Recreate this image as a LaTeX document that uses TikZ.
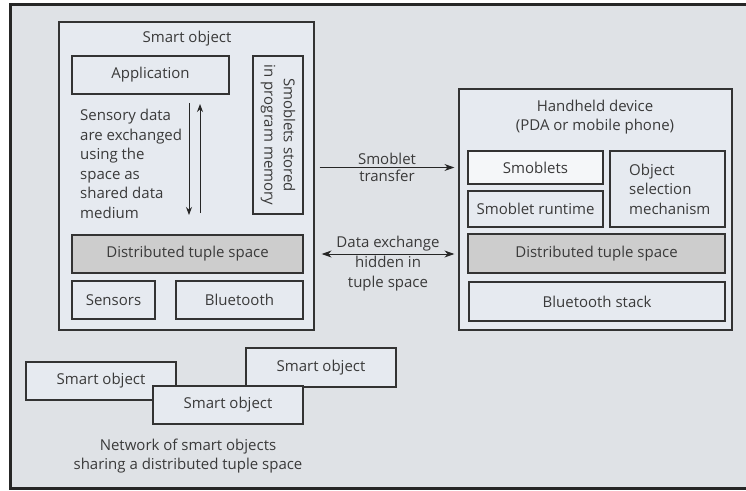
\documentclass[tikz,border=0pt]{standalone}
\usepackage{fontspec}
\setmainfont{Open Sans}
\usetikzlibrary{arrows.meta,positioning}
\definecolor{bgfill}{HTML}{DFE2E6}
\definecolor{boxfill}{HTML}{E6EAF0}
\definecolor{tuplefill}{HTML}{CDCDCD}
\definecolor{inkgray}{HTML}{3A3A3A}
\begin{document}
\begin{tikzpicture}[x=1pt,y=-1pt,
  frame/.style={draw=black!85,line width=3pt,fill=bgfill},
  box/.style={draw=black!80,line width=1.2pt,fill=boxfill,inner sep=0pt,
    font=\fontsize{15}{19.5}\selectfont,text=inkgray},
  tuplebox/.style={box,fill=tuplefill},
  txt/.style={font=\fontsize{15}{19.5}\selectfont,text=inkgray,inner sep=2pt},
  flow/.style={draw=black!85,line width=1pt,-{Stealth[length=10pt,width=7pt]}},
]
\clip (0,0) rectangle (746,490);
\draw[frame] (10,4) rectangle (770,488);
% smart object
\node[box,minimum width=255pt,minimum height=308pt] (sobj) at (186.5,176) {};
\node[txt] (sobjtitle) at (187,39) {Smart object};
\node[box,minimum width=157pt,minimum height=38pt] (app) at (150.5,75) {Application};
\node[box,rotate=-90,minimum width=158pt,minimum height=50pt,align=center] (store) at (278,135)
  {Smoblets stored\\in program memory};
\node[txt,anchor=west,align=left] (sensory) at (78,164)
  {Sensory data\\are exchanged\\using the\\space as\\shared data\\medium};
\coordinate (downtop) at (189,103);
\coordinate (downbot) at (189,215);
\coordinate (uptop) at (200,104);
\coordinate (upbot) at (200,213);
\draw[flow,-{Stealth[length=8pt,width=6pt]}] (downtop) -- (downbot);
\draw[flow,-{Stealth[length=8pt,width=6pt]}] (upbot) -- (uptop);
\node[tuplebox,minimum width=231pt,minimum height=38pt] (tupleL) at (187.5,254) {Distributed tuple space};
\node[box,minimum width=83pt,minimum height=38pt] (sensors) at (113.5,300) {Sensors};
\node[box,minimum width=127pt,minimum height=38pt] (bt) at (239.5,300) {Bluetooth};
% handheld device
\node[box,minimum width=273pt,minimum height=241pt] (hand) at (595.5,209.5) {};
\node[txt,align=center] (handtitle) at (595,117) {Handheld device\\(PDA or mobile phone)};
\node[box,fill=white!60!boxfill,minimum width=135pt,minimum height=33pt] (smoblets) at (535.5,167.5) {Smoblets};
\node[box,minimum width=135pt,minimum height=36pt] (runtime) at (535.5,209) {Smoblet runtime};
\node[box,minimum width=115pt,minimum height=76pt] (objsel) at (667.5,189) {};
\node[txt,anchor=west,align=left] (objseltext) at (627,189) {Object\\selection\\mechanism};
\node[tuplebox,minimum width=257pt,minimum height=39pt] (tupleR) at (596.5,253.5) {Distributed tuple space};
\node[box,minimum width=256pt,minimum height=39pt] (btstack) at (597,301.5) {Bluetooth stack};
% connections
\draw[flow] ([xshift=5pt]sobj.east |- smoblets) -- ([xshift=-4pt]hand.west |- smoblets)
  node[txt,midway,above] (transfertop) {Smoblet}
  node[txt,midway,below] (transferbot) {transfer};
\draw[flow,{Stealth[length=10pt,width=7pt]}-{Stealth[length=10pt,width=7pt]}]
  ([xshift=7pt]sobj.east |- tupleL) -- ([xshift=-4pt]hand.west |- tupleL)
  node[txt,midway,above] (exchtop) {Data exchange}
  node[txt,midway,below,align=center] (exchbot) {hidden in\\tuple space};
% network of smart objects
\node[box,minimum width=150pt,minimum height=38pt] (netA) at (101,381) {Smart object};
\node[box,minimum width=150pt,minimum height=39pt] (netB) at (321,367.5) {Smart object};
\node[box,minimum width=150pt,minimum height=38pt] (netC) at (228,405) {Smart object};
\node[txt,align=center] (caption) at (188,456) {Network of smart objects\\sharing a distributed tuple space};
\end{tikzpicture}
\end{document}
